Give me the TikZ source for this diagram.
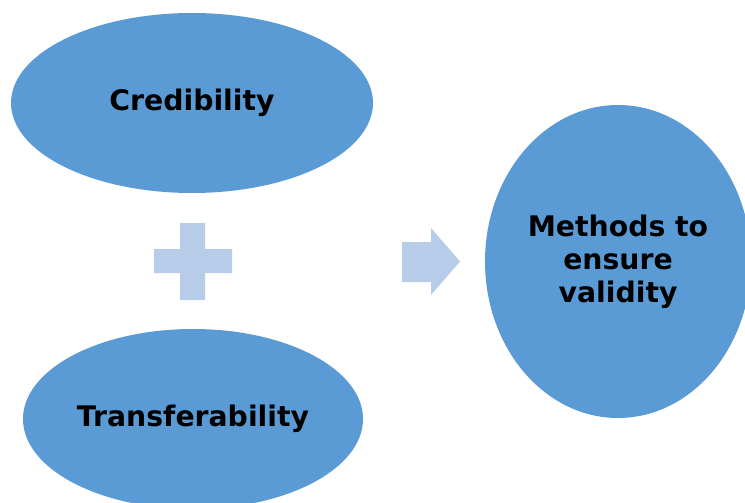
\documentclass[tikz,border=0pt]{standalone}
\usepackage{fontspec}
\setmainfont{DejaVu Sans}
\usetikzlibrary{shapes.geometric}
\definecolor{ellblue}{HTML}{5B9BD5}
\definecolor{lightblue}{HTML}{B7CCE8}
\begin{document}
\begin{tikzpicture}[x=1pt,y=-1pt,
  oval/.style={ellipse,fill=ellblue,draw=none,inner sep=0pt,outer sep=0pt,
    font=\fontsize{28.3}{33}\selectfont\bfseries,align=center,text=black},
  deco/.style={fill=lightblue,draw=none}]
\useasboundingbox (0,0) rectangle (745,503);
\clip (0,0) rectangle (745,503);
\fill[white] (0,0) rectangle (745,503);
\node[oval,minimum width=362pt,minimum height=180pt] (cred) at (192,103) {Credibility};
\node[oval,minimum width=340pt,minimum height=180pt] (trans) at (193,419) {Transferability};
\node[oval,minimum width=266pt,minimum height=313pt] (meth) at (618,261.5) {Methods to\\ensure\\validity};
\path[deco] (180,223) -- (205,223) -- (205,249) -- (232,249) -- (232,273) -- (205,273)
  -- (205,300) -- (180,300) -- (180,273) -- (154,273) -- (154,249) -- (180,249) -- cycle;
\path[deco] (402,242) -- (431,242) -- (431,228) -- (460,261.5) -- (431,295) -- (431,282)
  -- (402,282) -- cycle;
\end{tikzpicture}
\end{document}
